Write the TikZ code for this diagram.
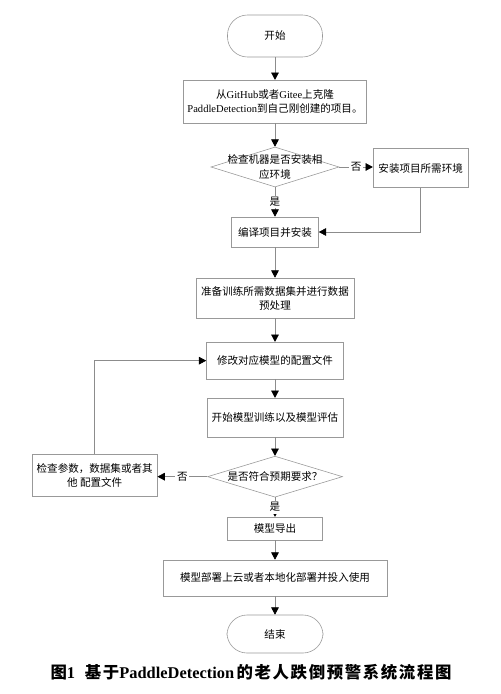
\documentclass[tikz,border=0pt]{standalone}
\usepackage{fontspec}
\setmainfont{Noto Sans CJK SC}
\newfontfamily\latinfont{Liberation Serif}
\newfontfamily\capfont{Noto Sans CJK SC}[LetterSpace=10]
\newcommand{\en}[1]{{\latinfont #1}}
\usetikzlibrary{arrows.meta,shapes.geometric}

\begin{document}
\begin{tikzpicture}[x=1cm,y=1cm]
\tikzset{
  flowbox/.style={rectangle,draw=black!40,line width=0.5pt,align=center,inner sep=1pt,font=\fontsize{9}{12}\selectfont},
  flowterm/.style={flowbox,rounded corners=0.6cm},
  flowdec/.style={diamond,draw=black!40,line width=0.5pt,inner sep=0pt},
  flowtext/.style={align=center,inner sep=0pt,font=\fontsize{9}{12}\selectfont},
  flowedge/.style={draw=black!45,line width=0.5pt},
  directed/.style={flowedge,-{Triangle[length=2.2mm,width=2.3mm,color=black]}},
  edgelabel/.style={fill=white,inner sep=1.5pt,font=\fontsize{9}{11}\selectfont}
}
\useasboundingbox (0,0) rectangle (15,-20.82);
\node[flowterm,minimum width=2.85cm,minimum height=1.26cm] (n_start) at (8.25,-1.08) {开始};
\node[flowbox,minimum width=5.49cm,minimum height=1.29cm] (n_clone) at (8.25,-3.05) {从\en{GitHub}或者\en{Gitee}上克隆\\\en{PaddleDetection}到自己刚创建的项目。};
\node[flowdec,minimum width=3.84cm,minimum height=1.2cm] (n_chk) at (8.25,-5.01) {};
\node[flowtext] (n_chk_t) at (n_chk) {检查机器是否安装相\\应环境};
\node[flowbox,minimum width=2.85cm,minimum height=1.17cm] (n_inst) at (12.62,-5.04) {安装项目所需环境};
\node[flowbox,minimum width=2.61cm,minimum height=0.9cm] (n_comp) at (8.25,-6.96) {编译项目并安装};
\node[flowbox,minimum width=4.74cm,minimum height=1.2cm] (n_prep) at (8.25,-8.94) {准备训练所需数据集并进行数据\\预处理};
\node[flowbox,minimum width=4.11cm,minimum height=1.11cm] (n_mod) at (8.25,-10.82) {修改对应模型的配置文件};
\node[flowbox,minimum width=4.08cm,minimum height=1.17cm] (n_train) at (8.25,-12.53) {开始模型训练以及模型评估};
\node[flowdec,minimum width=4.05cm,minimum height=1.23cm] (n_eval) at (8.25,-14.30) {};
\node[flowtext] (n_eval_t) at (n_eval) {是否符合预期要求？};
\node[flowbox,minimum width=3.75cm,minimum height=1.26cm] (n_fix) at (2.84,-14.25) {检查参数，数据集或者其\\他 配置文件};
\node[flowbox,minimum width=2.85cm,minimum height=0.69cm] (n_exp) at (8.25,-15.86) {模型导出};
\node[flowbox,minimum width=6.72cm,minimum height=1.08cm] (n_dep) at (8.25,-17.34) {模型部署上云或者本地化部署并投入使用};
\node[flowterm,minimum width=2.88cm,minimum height=1.14cm] (n_end) at (8.25,-19.02) {结束};
\node[font=\fontsize{14}{16}\selectfont\bfseries\capfont] (n_cap) at (7.53,-20.16) {图\en{1}\hspace{0.6em}基于\en{PaddleDetection}\hspace{0.15em}的老人跌倒预警系统流程图};
\draw[directed] (n_start) -- (n_clone);
\draw[directed] (n_clone) -- (n_chk);
\draw[directed] (n_chk.east) -- node[edgelabel] {否} (n_chk.east -| n_inst.west);
\draw[directed] (n_chk) -- node[edgelabel] {是} (n_comp);
\draw[directed] (n_inst.south) |- (n_comp.east);
\draw[directed] (n_comp) -- (n_prep);
\draw[directed] (n_prep) -- (n_mod);
\draw[directed] (n_mod) -- (n_train);
\draw[directed] (n_train) -- (n_eval);
\draw[directed] (n_eval.west) -- node[edgelabel] {否} (n_eval.west -| n_fix.east);
\draw[directed] (n_fix.north) |- (n_mod.west);
\draw[directed] (n_eval) -- node[edgelabel] {是} (n_exp);
\draw[directed] (n_exp) -- (n_dep);
\draw[directed] (n_dep) -- (n_end);
\end{tikzpicture}
\end{document}
